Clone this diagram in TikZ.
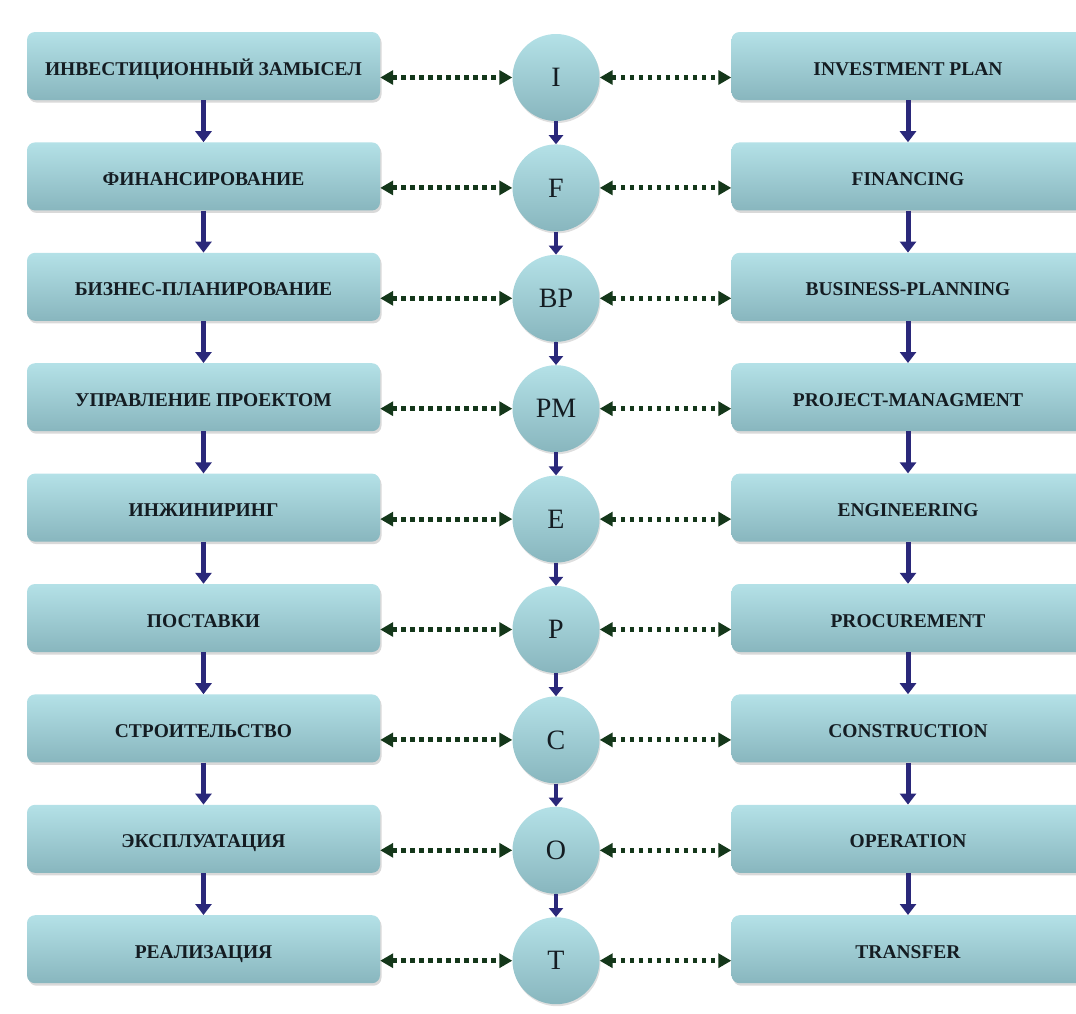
\documentclass[tikz,border=0pt]{standalone}
\usepackage{fontspec}
\setmainfont{Liberation Serif}
\usepackage{tikz}
\usetikzlibrary{positioning,arrows.meta,shadows}
\definecolor{boxtop}{RGB}{180,225,231}
\definecolor{boxbot}{RGB}{136,182,190}
\definecolor{navy}{RGB}{42,40,122}
\definecolor{dotgreen}{RGB}{20,55,26}
\definecolor{ink}{RGB}{20,28,34}

\begin{document}
\begin{tikzpicture}[node distance =110.4pt and 352.5pt ,on grid ,
stage/.style ={rectangle ,rounded corners =8pt ,top color =boxtop ,bottom color =boxbot ,
 draw =none ,minimum width =353pt ,minimum height =68pt ,inner sep =0pt ,text =ink ,
 text height =18pt ,text depth =0pt ,
 font =\bfseries\fontsize{19.5}{21}\selectfont ,
 drop shadow ={shadow xshift =1.5pt ,shadow yshift =-2.5pt ,opacity =0.3 ,fill =gray}},
letter/.style ={circle ,top color =boxtop ,bottom color =boxbot ,draw =none ,
 minimum size =87pt ,inner sep =0pt ,text =ink ,font =\fontsize{28}{30}\selectfont ,
 drop shadow ={shadow xshift =1pt ,shadow yshift =-2pt ,opacity =0.25 ,fill =gray}},
flow/.style ={draw =navy ,line width =5pt ,-{Triangle[length=11pt,width=16pt]}},
small flow/.style ={draw =navy ,line width =4pt ,-{Triangle[length=9pt,width=14pt]}},
link/.style ={draw =dotgreen ,line width =5pt ,dash pattern =on 4.5pt off 4.5pt ,
 {Triangle[length=13pt,width=14pt]}-{Triangle[length=13pt,width=14pt]}}
]
\useasboundingbox (0,0) rectangle (1076pt,-1013pt);
% left column
\node[stage] (L1) at (203.5pt,-66pt) {ИНВЕСТИЦИОННЫЙ ЗАМЫСЕЛ};
\node[stage] (L2) [below = of L1] {ФИНАНСИРОВАНИЕ};
\node[stage] (L3) [below = of L2] {БИЗНЕС-ПЛАНИРОВАНИЕ};
\node[stage] (L4) [below = of L3] {УПРАВЛЕНИЕ ПРОЕКТОМ};
\node[stage] (L5) [below = of L4] {ИНЖИНИРИНГ};
\node[stage] (L6) [below = of L5] {ПОСТАВКИ};
\node[stage] (L7) [below = of L6] {СТРОИТЕЛЬСТВО};
\node[stage] (L8) [below = of L7] {ЭКСПЛУАТАЦИЯ};
\node[stage] (L9) [below = of L8] {РЕАЛИЗАЦИЯ};
% middle column
\node[letter] (M1) [right = of L1 ,yshift =-11.5pt] {I};
\node[letter] (M2) [below = of M1] {F};
\node[letter] (M3) [below = of M2] {BP};
\node[letter] (M4) [below = of M3] {PM};
\node[letter] (M5) [below = of M4] {E};
\node[letter] (M6) [below = of M5] {P};
\node[letter] (M7) [below = of M6] {C};
\node[letter] (M8) [below = of M7] {O};
\node[letter] (M9) [below = of M8] {T};
% right column
\node[stage] (R1) [right = 704.5pt of L1] {INVESTMENT PLAN};
\node[stage] (R2) [below = of R1] {FINANCING};
\node[stage] (R3) [below = of R2] {BUSINESS-PLANNING};
\node[stage] (R4) [below = of R3] {PROJECT-MANAGMENT};
\node[stage] (R5) [below = of R4] {ENGINEERING};
\node[stage] (R6) [below = of R5] {PROCUREMENT};
\node[stage] (R7) [below = of R6] {CONSTRUCTION};
\node[stage] (R8) [below = of R7] {OPERATION};
\node[stage] (R9) [below = of R8] {TRANSFER};
% down arrows
\draw[flow] (L1) -- (L2); \draw[flow] (L2) -- (L3); \draw[flow] (L3) -- (L4); \draw[flow] (L4) -- (L5);
\draw[flow] (L5) -- (L6); \draw[flow] (L6) -- (L7); \draw[flow] (L7) -- (L8); \draw[flow] (L8) -- (L9);
\draw[small flow] (M1) -- (M2); \draw[small flow] (M2) -- (M3); \draw[small flow] (M3) -- (M4); \draw[small flow] (M4) -- (M5);
\draw[small flow] (M5) -- (M6); \draw[small flow] (M6) -- (M7); \draw[small flow] (M7) -- (M8); \draw[small flow] (M8) -- (M9);
\draw[flow] (R1) -- (R2); \draw[flow] (R2) -- (R3); \draw[flow] (R3) -- (R4); \draw[flow] (R4) -- (R5);
\draw[flow] (R5) -- (R6); \draw[flow] (R6) -- (R7); \draw[flow] (R7) -- (R8); \draw[flow] (R8) -- (R9);
% dotted links
\draw[link] (L1.east |- M1) -- (M1); \draw[link] (M1) -- (R1.west |- M1);
\draw[link] (L2.east |- M2) -- (M2); \draw[link] (M2) -- (R2.west |- M2);
\draw[link] (L3.east |- M3) -- (M3); \draw[link] (M3) -- (R3.west |- M3);
\draw[link] (L4.east |- M4) -- (M4); \draw[link] (M4) -- (R4.west |- M4);
\draw[link] (L5.east |- M5) -- (M5); \draw[link] (M5) -- (R5.west |- M5);
\draw[link] (L6.east |- M6) -- (M6); \draw[link] (M6) -- (R6.west |- M6);
\draw[link] (L7.east |- M7) -- (M7); \draw[link] (M7) -- (R7.west |- M7);
\draw[link] (L8.east |- M8) -- (M8); \draw[link] (M8) -- (R8.west |- M8);
\draw[link] (L9.east |- M9) -- (M9); \draw[link] (M9) -- (R9.west |- M9);
\end{tikzpicture}
\end{document}
